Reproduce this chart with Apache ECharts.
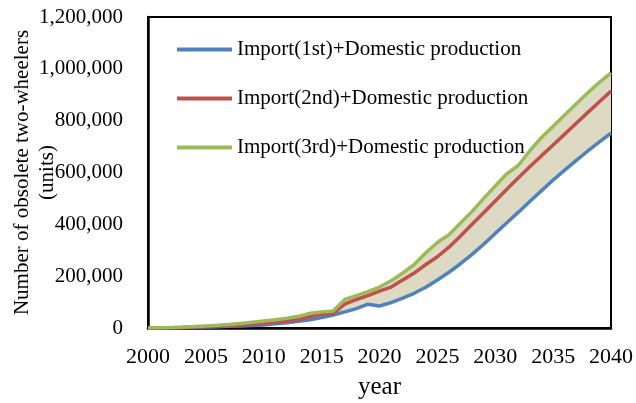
<!DOCTYPE html>
<html>
<head>
<meta charset="utf-8">
<script src="https://cdn.jsdelivr.net/npm/echarts@6/dist/echarts.min.js"></script>
<style>html,body{margin:0;padding:0;background:#fff;}#main{width:636px;height:403px;}</style>
</head>
<body>
<div id="main"></div>
<script>
var years = [];
for (var y = 2000; y <= 2040; y++) years.push(String(y));

var seriesNames = ['Import(1st)+Domestic production', 'Import(2nd)+Domestic production', 'Import(3rd)+Domestic production'];

var import1st = [0, 500, 1000, 1500, 2500, 3500, 5000, 6500, 8000, 10000,
  12000, 16000, 20000, 26000, 32000, 40000, 50000, 62000, 75000, 92000,
  85000, 98000, 115000, 134000, 157000, 185000, 215000, 248000, 284000, 323000,
  365000, 406000, 447000, 489000, 530000, 571000, 609000, 647000, 683000, 718000, 752000];

var import2nd = [0, 500, 1000, 2000, 3500, 5000, 7000, 9000, 11500, 14500,
  18000, 22000, 27000, 33000, 44000, 52000, 56000, 92000, 110000, 125000,
  142000, 158000, 185000, 212000, 245000, 275000, 312000, 355000, 400000, 445000,
  490000, 535000, 580000, 623000, 665000, 706000, 748000, 790000, 832000, 873000, 914000];

var import3rd = [0, 1000, 2000, 3500, 5500, 8000, 10500, 13500, 17000, 22000,
  27000, 32000, 38000, 45000, 57000, 62000, 66000, 110000, 125000, 140000,
  158000, 182000, 212000, 245000, 290000, 330000, 360000, 405000, 450000, 500000,
  548000, 595000, 628000, 685000, 735000, 778000, 822000, 865000, 908000, 948000, 984000];

var yTicks = { min: 0, max: 1200000, interval: 200000 };

var band = import3rd.map(function (v, i) { return v - import1st[i]; });

var serif = '"Liberation Serif", "Times New Roman", serif';
var chart = echarts.init(document.getElementById('main'));
chart.setOption({
  animation: false,
  backgroundColor: '#fff',
  grid: { left: 148, right: 25, top: 17, bottom: 75, containLabel: false, outerBoundsMode: 'none', show: true, borderColor: '#000', borderWidth: 2, backgroundColor: 'transparent' },
  legend: {
    orient: 'vertical', left: 172, top: 34,
    itemWidth: 55, itemHeight: 4, itemGap: 28, icon: 'rect',
    data: seriesNames,
    textStyle: { fontFamily: serif, fontSize: 21, color: '#000' }
  },
  xAxis: {
    type: 'category', data: years, boundaryGap: false,
    name: 'year', nameLocation: 'middle', nameGap: 47, nameMoveOverlap: false,
    nameTextStyle: { fontFamily: serif, fontSize: 25, color: '#000' },
    axisLine: { lineStyle: { color: '#000', width: 2.5 } },
    axisTick: { show: false },
    axisLabel: { interval: 4, fontFamily: serif, fontSize: 22, color: '#000', margin: 18, showMaxLabel: true }
  },
  yAxis: {
    type: 'value', min: yTicks.min, max: yTicks.max, interval: yTicks.interval,
    name: 'Number of obsolete two-wheelers\n(units)', nameLocation: 'middle', nameGap: 88, nameMoveOverlap: false,
    nameTextStyle: { fontFamily: serif, fontSize: 21, color: '#000', lineHeight: 25 },
    axisLine: { show: true, lineStyle: { color: '#000', width: 2.5 } },
    axisTick: { show: false },
    splitLine: { show: false },
    axisLabel: {
      fontFamily: serif, fontSize: 21, color: '#000', margin: 25,
      formatter: function (v) { return v.toLocaleString('en-US'); }
    }
  },
  series: [
    { name: 'base', type: 'line', stack: 'band', data: import1st, symbol: 'none', lineStyle: { opacity: 0 }, silent: true, z: 1 },
    { name: 'bandfill', type: 'line', stack: 'band', data: band, symbol: 'none', lineStyle: { opacity: 0 }, areaStyle: { color: '#ddd9c3', opacity: 1 }, silent: true, z: 1 },
    { name: seriesNames[0], type: 'line', data: import1st, symbol: 'none', lineStyle: { color: '#4f81bd', width: 3.5 }, itemStyle: { color: '#4f81bd' }, z: 3 },
    { name: seriesNames[1], type: 'line', data: import2nd, symbol: 'none', lineStyle: { color: '#c0504d', width: 3.5 }, itemStyle: { color: '#c0504d' }, z: 3 },
    { name: seriesNames[2], type: 'line', data: import3rd, symbol: 'none', lineStyle: { color: '#9bbb59', width: 3.5 }, itemStyle: { color: '#9bbb59' }, z: 3 }
  ]
});
</script>
</body>
</html>
